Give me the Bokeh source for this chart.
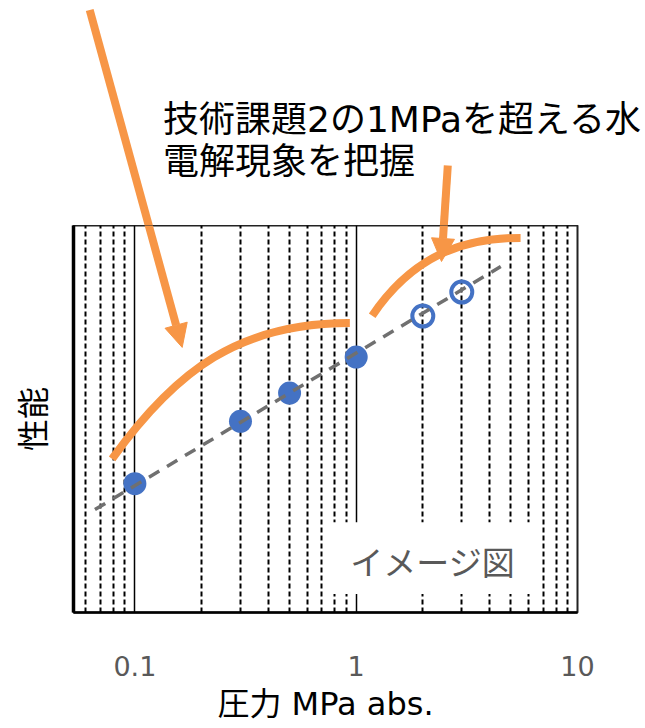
import math

from bokeh.plotting import figure
from bokeh.layouts import column, row
from bokeh.models import (Range1d, FixedTicker, Label, BoxAnnotation, Arrow,
                          NormalHead)
from bokeh.embed import file_html
from bokeh.resources import INLINE

# --- data -------------------------------------------------------------
# measured performance vs. absolute pressure (arbitrary units)
pressure_measured = [0.1, 0.3, 0.5, 1.0]
performance_measured = [33.3, 49.4, 56.7, 66.0]

# expected points above 1 MPa (open markers)
pressure_target = [2.0, 3.0]
performance_target = [76.6, 82.8]

# log-linear trend through all points
trend_pressure = [0.066, 4.5]
trend_performance = [26.6, 89.4]

# axis ticks
major_ticks = [0.1, 1.0, 10.0]
major_tick_labels = ["0.1", "1", "10"]
minor_ticks = [0.06, 0.07, 0.08, 0.09,
               0.2, 0.3, 0.4, 0.5, 0.6, 0.7, 0.8, 0.9,
               2, 3, 4, 5, 6, 7, 8, 9]

# illustrative saturation curves (cubic Bezier: start, ctrl1, ctrl2, end)
curve_low = dict(x0=[0.0789], y0=[39.7], cx0=[0.154], cy0=[62.8],
                 cx1=[0.298], cy1=[74.8], x1=[0.936], y1=[74.8])
curve_high = dict(x0=[1.181], y0=[76.7], cx0=[1.78], cy0=[91.7],
                  cx1=[2.96], cy1=[96.8], x1=[5.53], y1=[96.8])

# arrows (start -> head) pointing at the two curves
arrows = [
    dict(x_start=0.0625, y_start=155.7, x_end=0.1636, y_end=68.5),
    dict(x_start=2.594, y_start=115.5, x_end=2.429, y_end=90.7),
]

note_lines = ["技術課題2の1MPaを超える水", "電解現象を把握"]

ORANGE = "#F79646"
BLUE = "#4472C4"
GREY_TEXT = "#595959"
JP = "Noto Sans CJK JP"
MIXED = "'DejaVu Sans', 'Noto Sans CJK JP'"

W = 645
TOP_H = 225                      # band above the chart for the note text
CHART_H = 728 - TOP_H
BORDER_L, BORDER_R, BORDER_B = 73, 68, 116

X_MIN, X_MAX = 0.0528, 10.0
Y_MIN, Y_MAX = 0.0, 100.0

# --- main chart -------------------------------------------------------
p = figure(width=W, height=CHART_H, x_axis_type="log",
           x_range=Range1d(X_MIN, X_MAX), y_range=Range1d(Y_MIN, Y_MAX),
           output_backend="svg", toolbar_location=None,
           min_border_left=BORDER_L, min_border_right=BORDER_R,
           min_border_top=0, min_border_bottom=BORDER_B,
           background_fill_color="white", border_fill_color="white")

p.outline_line_color = "#222222"
p.outline_line_width = 2

# x axis: log scale, labels only
ticker = FixedTicker(ticks=major_ticks, minor_ticks=minor_ticks)
p.xaxis.ticker = ticker
p.xgrid.ticker = ticker
p.xaxis.major_label_overrides = dict(zip(major_ticks, major_tick_labels))
p.xaxis.major_tick_line_color = None
p.xaxis.minor_tick_line_color = None
p.xaxis.axis_line_color = "black"
p.xaxis.axis_line_width = 2.5
p.xaxis.major_label_standoff = 37
p.xaxis.major_label_text_font = "DejaVu Sans"
p.xaxis.major_label_text_font_size = "27px"
p.xaxis.major_label_text_color = GREY_TEXT
p.xaxis.axis_label = "圧力 MPa abs."
p.xaxis.axis_label_text_font = MIXED
p.xaxis.axis_label_text_font_size = "32px"
p.xaxis.axis_label_text_font_style = "normal"
p.xaxis.axis_label_text_color = "black"
p.xaxis.axis_label_standoff = 6

# y axis: no ticks, just the label
p.yaxis.ticker = FixedTicker(ticks=[])
p.yaxis.major_tick_line_color = None
p.yaxis.minor_tick_line_color = None
p.yaxis.axis_line_color = "black"
p.yaxis.axis_line_width = 3.5
p.yaxis.axis_label = "性能"
p.yaxis.axis_label_text_font = JP
p.yaxis.axis_label_text_font_size = "32px"
p.yaxis.axis_label_text_font_style = "normal"
p.yaxis.axis_label_text_color = "black"
p.yaxis.axis_label_standoff = 20

# vertical grid: solid decades, dashed intermediate values
p.xgrid.grid_line_color = "black"
p.xgrid.grid_line_width = 1.5
p.xgrid.minor_grid_line_color = "black"
p.xgrid.minor_grid_line_width = 2
p.xgrid.minor_grid_line_dash = "5 3"
p.ygrid.visible = False

# illustrative curves
p.bezier(line_color=ORANGE, line_width=8, line_cap="butt", **curve_low)
p.bezier(line_color=ORANGE, line_width=8, line_cap="butt", **curve_high)

# data points
p.scatter(pressure_measured, performance_measured, size=23,
          fill_color=BLUE, line_color=None)
p.scatter(pressure_target, performance_target, size=21,
          fill_color=None, line_color=BLUE, line_width=4)

# trend line on top of the markers
p.line(trend_pressure, trend_performance, line_color="#707070",
       line_width=3.5, line_dash="12 9")

# "image only" tag box
p.add_layout(BoxAnnotation(left=0.726, right=6.67, bottom=4.8, top=23.3,
                           fill_color="white", fill_alpha=1.0,
                           line_color=None))
p.add_layout(Label(x=2.22, y=13.4, text="イメージ図", text_font=JP,
                   text_font_size="33px", text_color=GREY_TEXT,
                   text_align="center", text_baseline="middle"))

# --- note band above the chart, sharing the chart's coordinate mapping --
frame_w = W - BORDER_L - BORDER_R
frame_h = CHART_H - BORDER_B
px_per_decade = frame_w / (math.log10(X_MAX) - math.log10(X_MIN))
top_x0 = 10 ** (math.log10(X_MIN) - BORDER_L / px_per_decade)
top_x1 = 10 ** (math.log10(top_x0) + W / px_per_decade)
px_per_unit = frame_h / (Y_MAX - Y_MIN)
top_y1 = Y_MAX + TOP_H / px_per_unit

top = figure(width=W, height=TOP_H, x_axis_type="log",
             x_range=Range1d(top_x0, top_x1), y_range=Range1d(Y_MAX, top_y1),
             x_axis_location=None, y_axis_location=None,
             output_backend="svg", toolbar_location=None,
             min_border=0, background_fill_color="white",
             border_fill_color="white")
top.outline_line_color = None
top.xgrid.visible = False
top.ygrid.visible = False

for text, y in zip(note_lines, [127.3, 116.6]):
    top.add_layout(Label(x=0.134, y=y, text=text, text_font=MIXED,
                         text_font_size="36px", text_color="black",
                         text_align="left", text_baseline="alphabetic"))

# each arrow is drawn in both panels; each panel shows its own part
for fig in (top, p):
    for a in arrows:
        fig.add_layout(Arrow(line_color=ORANGE, line_width=8,
                             end=NormalHead(size=23, fill_color=ORANGE,
                                            line_color=ORANGE, line_width=1),
                             **a))

layout = column(row(top), row(p), spacing=0)
open("out.html", "w").write(file_html(layout, INLINE))
